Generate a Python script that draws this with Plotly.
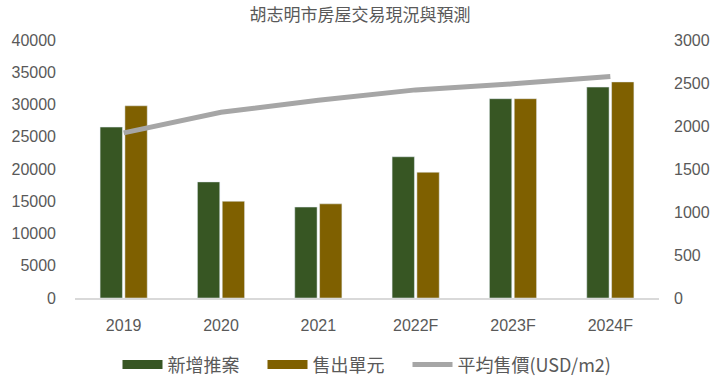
import plotly.graph_objects as go

categories = ["2019", "2020", "2021", "2022F", "2023F", "2024F"]
new_supply = [26500, 18000, 14100, 21900, 30900, 32700]
units_sold = [29800, 15000, 14600, 19500, 30900, 33500]
avg_price = [1920, 2160, 2300, 2420, 2490, 2575]

title_text = "胡志明市房屋交易現況與預測"
names = ["新增推案", "售出單元", "平均售價(USD/m2)"]
colors = ["#375623", "#7F6000", "#A6A6A6"]

tick_font = dict(family="Liberation Sans, Arial, sans-serif", size=16, color="#595959")
cjk_font = dict(family="Noto Sans CJK TC, sans-serif", size=18, color="#595959")
pad = "\u2003"

fig = go.Figure()
fig.add_trace(go.Bar(x=categories, y=new_supply, name=names[0], marker_color=colors[0],
                     yaxis="y", showlegend=False))
fig.add_trace(go.Bar(x=categories, y=units_sold, name=names[1], marker_color=colors[1],
                     yaxis="y", showlegend=False))
fig.add_trace(go.Scatter(x=categories, y=avg_price, name=names[2], mode="lines",
                         line=dict(color=colors[2], width=5), yaxis="y2", showlegend=False))
# legend entries
fig.add_trace(go.Scatter(x=[None], y=[None], name=names[0] + pad, mode="lines",
                         line=dict(color=colors[0], width=9), yaxis="y"))
fig.add_trace(go.Scatter(x=[None], y=[None], name=names[1] + pad, mode="lines",
                         line=dict(color=colors[1], width=9), yaxis="y"))
fig.add_trace(go.Scatter(x=[None], y=[None], name=names[2], mode="lines",
                         line=dict(color=colors[2], width=5), yaxis="y2"))

fig.update_layout(
    width=720, height=380,
    paper_bgcolor="white", plot_bgcolor="white",
    margin=dict(l=75, r=61, t=40, b=82, autoexpand=False),
    title=dict(text=title_text, x=0.5, xanchor="center", y=0.975, yanchor="top",
               font=dict(family="Noto Sans CJK TC, sans-serif", size=17, color="#595959")),
    barmode="group", bargap=0.49, bargroupgap=0.1,
    showlegend=True,
    legend=dict(orientation="h", x=0.5, xanchor="center", yref="container", y=0.04,
                yanchor="middle", font=cjk_font, itemwidth=40, traceorder="normal",
                tracegroupgap=0),
    xaxis=dict(type="category", tickfont=tick_font, showgrid=False, automargin=False,
               showline=True, linecolor="#D9D9D9", linewidth=2, ticks="", ticklabelstandoff=12),
    yaxis=dict(range=[0, 40000], dtick=5000, tickformat="d", tickfont=tick_font, showgrid=False,
               zeroline=False, showline=False, ticks="", ticklabelstandoff=18, automargin=False),
    yaxis2=dict(range=[0, 3000], dtick=500, tickformat="d", tickfont=tick_font, showgrid=False,
                zeroline=False, showline=False, overlaying="y", side="right", ticks="",
                ticklabelstandoff=14, automargin=False),
)

fig.write_html("out.html", config={"displayModeBar": False},
               post_script="document.body.style.margin='0';")
